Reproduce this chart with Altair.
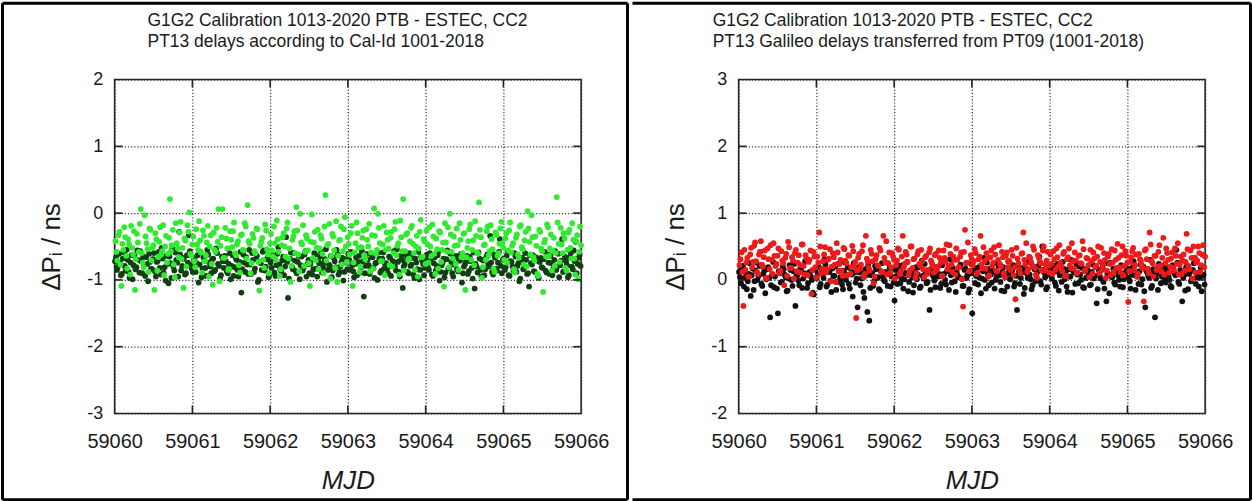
import altair as alt
import pandas as pd

# ---------------- data ----------------
X_TICKS = [59060, 59061, 59062, 59063, 59064, 59065, 59066]
LEFT_Y_TICKS = [-3, -2, -1, 0, 1, 2]
RIGHT_Y_TICKS = [-2, -1, 0, 1, 2, 3]
LEFT_TITLE = ["G1G2 Calibration 1013-2020 PTB - ESTEC, CC2",
              "PT13 delays according to Cal-Id 1001-2018"]
RIGHT_TITLE = ["G1G2 Calibration 1013-2020 PTB - ESTEC, CC2",
               "PT13 Galileo delays transferred from PT09 (1001-2018)"]
Y_TITLE = "\u0394P\u1d62 / ns"
X_TITLE = "MJD"

# left panel, light green series (ns), first and second pass of tracks
light_green = [
    -0.42, -0.71, -0.28, -1.09, -0.55, -0.36, -0.83, -0.47, -0.19, -0.62, -1.15, -0.31, -0.58, 0.06, -0.74, -0.03, -0.45, -0.88, -0.25, -0.52,
    -1.15, -0.39, -0.66, -0.21, -0.57, -0.93, -0.34, -0.61, 0.21, -0.48, -0.77, -0.15, -0.53, -0.29, -0.69, -1.12, -0.41, -0.18, 0.01, -0.64,
    -0.35, -0.81, -0.47, -0.12, -0.59, -0.26, -0.72, -0.44, -0.95, -0.33, -1.07, -0.55, -0.22, 0.06, -0.49, 0.06, -0.67, -0.38, -0.85, -0.27,
    -0.51, -0.14, -0.63, -0.42, -0.89, -0.32, -0.56, -0.20, 0.12, -0.46, -0.75, -0.37, -0.60, -0.24, -1.16, -0.43, -0.70, -0.17, -0.54, -0.90,
    -0.31, -0.65, -0.45, -0.11, -0.58, -0.84, -0.36, -0.50, -0.23, -0.68, -1.03, -0.40, -0.27, 0.09, -0.62, -0.01, -0.47, -0.79, -0.33, -0.56,
    -1.09, -0.02, -0.44, -0.71, -0.25, -0.53, -0.38, -0.90, 0.27, -0.48, -0.16, -0.64, -0.35, -0.82, -1.03, -0.41, -0.20, -0.57, -0.06, -0.73,
    -0.46, -0.30, -1.09, -0.59, -0.14, -0.52, -0.80, -0.37, -0.63, -0.24, -0.50, -0.87, -0.33, 0.07, -0.61, -0.01, -0.45, -0.72, -0.19, -0.55,
    -0.40, -0.78, -0.28, -0.60, -0.13, -0.49, -0.92, -0.36, 0.21, -0.57, -0.30, -0.68, -0.22, -0.46, -0.85, -0.34, -0.53, -0.10, -0.65, -0.42,
    -0.26, -0.74, -0.50, -0.17, -0.61, -0.38, -0.83, -0.29, -0.55, -1.10, -0.44, -0.21, -0.01, -0.58, -0.35, -0.76, -0.48, -0.15, -0.66, -0.31,
    -1.15, -0.52, -0.24, -0.70, -0.41, -0.12, -0.59, 0.16, -0.36, -0.81, -0.47, -0.27, -0.63, -0.18, -0.54, -0.88, -0.33, -0.60, -0.23, -0.45,
    -0.70, -0.30, -0.56, -0.14, -0.49, -0.84, -0.37, -0.62, -0.20, -0.51, -0.77, -0.28, 0.03, -0.43, -0.03, -0.66, -0.35, -0.91, -0.25, -0.53,
    -1.18, -0.40, -0.17, -0.64, -0.32, -0.57, -0.79, 0.24, -0.46, -0.22, -0.60, -0.38, -0.86, -0.29, -0.52, -0.15, -0.68, -0.42, -0.99, -0.20,
]
light_green_b = [
    -0.58, -0.33, -0.77, -0.46, -0.21, -0.64, -0.39, -0.92, -0.52, -0.27, -0.69, -0.44, -0.16, -0.60, -0.81, -0.35, -0.54, -0.23, -0.71, -0.48,
    -0.30, -0.86, -0.43, -0.62, -0.18, -0.50, -0.74, -0.37, -0.57, -0.25, -0.96, -0.45, -0.66, -0.13, -0.52, -0.38, -0.80, -0.28, -0.61, -0.47,
    -0.72, -0.24, -0.55, -0.41, -0.89, -0.34, -0.63, -0.19, -0.50, -0.76, -0.29, -0.58, -0.43, -1.02, -0.36, -0.67, -0.22, -0.53, -0.84, -0.40,
    -0.27, -0.60, -0.47, -0.78, -0.33, -0.55, -0.15, -0.68, -0.42, -0.90, -0.31, -0.57, -0.23, -0.73, -0.49, -0.37, -0.82, -0.26, -0.62, -0.45,
    -0.56, -0.20, -0.70, -0.39, -0.94, -0.48, -0.30, -0.65, -0.14, -0.53, -0.79, -0.35, -0.60, -0.26, -0.87, -0.44, -0.18, -0.58, -0.38, -0.75,
    -0.43, -0.67, -0.28, -0.52, -0.84, -0.33, -0.61, -0.20, -0.71, -0.46, -0.98, -0.31, -0.56, -0.12, -0.64, -0.40, -0.77, -0.24, -0.50, -0.36,
    -0.62, -0.19, -0.74, -0.45, -0.30, -0.88, -0.51, -0.26, -0.69, -0.40, -0.16, -0.59, -0.83, -0.34, -0.55, -0.22, -0.72, -0.47, -0.93, -0.29,
    -0.53, -0.37, -0.80, -0.24, -0.63, -0.45, -0.11, -0.57, -0.86, -0.32, -0.70, -0.42, -0.19, -0.60, -0.50, -0.95, -0.28, -0.66, -0.39, -0.76,
    -0.47, -0.21, -0.64, -0.35, -0.91, -0.54, -0.27, -0.73, -0.44, -0.15, -0.58, -0.81, -0.32, -0.68, -0.49, -0.23, -0.85, -0.40, -0.60, -0.30,
    -0.66, -0.42, -0.17, -0.55, -0.78, -0.34, -0.61, -0.25, -0.97, -0.48, -0.70, -0.20, -0.57, -0.39, -0.83, -0.29, -0.64, -0.46, -0.13, -0.52,
    -0.38, -0.74, -0.26, -0.59, -0.45, -0.89, -0.32, -0.67, -0.18, -0.54, -0.41, -0.80, -0.23, -0.62, -0.36, -0.71, -0.49, -0.94, -0.28, -0.57,
    -0.44, -0.65, -0.21, -0.53, -0.86, -0.37, -0.60, -0.14, -0.73, -0.47, -0.30, -0.82, -0.55, -0.25, -0.68, -0.40, -0.92, -0.33, -0.58, -0.48,
]

# left panel, dark green series (ns)
dark_green = [
    -0.72, -0.85, -0.61, -0.93, -0.68, -0.79, -0.55, -0.88, -0.74, -0.99, -0.64, -0.81, -0.70, -0.57, -0.90, -0.77, -0.66, -1.02, -0.73, -0.84,
    -0.60, -0.95, -0.71, -0.82, -0.52, -0.89, -1.01, -0.76, -0.65, -0.97, -0.80, -0.59, -0.74, -0.28, -0.86, -0.69, -0.92, -0.63, -0.33, -0.78,
    -0.88, -0.67, -0.75, -1.04, -0.58, -0.83, -0.71, -0.94, -0.62, -0.80, -0.69, -0.87, -0.53, -0.76, -0.98, -0.65, -0.82, -0.72, -0.90, -0.60,
    -0.79, -0.94, -0.66, -0.85, -0.73, -1.19, -0.62, -0.88, -0.77, -0.55, -0.91, -0.70, -0.83, -0.64, -1.00, -0.75, -0.58, -0.86, -0.69, -0.96,
    -0.74, -0.63, -0.89, -0.78, -0.51, -0.84, -0.71, -0.93, -0.36, -1.27, -0.68, -0.80, -0.60, -0.87, -0.73, -0.99, -0.65, -0.82, -0.57, -0.76,
    -0.90, -0.70, -0.84, -0.62, -0.95, -0.75, -0.58, -0.81, -0.69, -1.03, -0.77, -0.64, -0.86, -0.72, -0.55, -0.92, -0.80, -0.67, -0.88, -0.74,
    -0.61, -0.85, -0.78, -0.96, -0.66, -0.73, -0.89, -0.57, -1.25, -0.79, -0.70, -0.91, -0.63, -0.82, -0.75, -1.00, -0.68, -0.86, -0.59, -0.77,
    -0.83, -0.65, -0.94, -0.72, -0.80, -0.54, -0.88, -0.70, -1.12, -0.76, -0.62, -0.90, -0.79, -0.67, -0.97, -0.74, -0.58, -0.85, -0.71, -0.93,
    -0.69, -0.81, -0.60, -0.92, -0.75, -0.86, -0.63, -1.01, -0.78, -0.68, -0.89, -0.56, -0.82, -0.73, -0.95, -0.66, -0.84, -0.71, -0.61, -0.90,
    -0.77, -0.64, -0.87, -0.72, -0.98, -1.13, -0.80, -0.59, -0.85, -0.70, -0.93, -0.66, -0.76, -0.34, -0.88, -0.62, -0.83, -0.74, -0.39, -0.90,
    -0.68, -0.81, -0.57, -0.94, -0.73, -0.86, -0.65, -0.79, -1.02, -0.70, -0.84, -0.60, -0.91, -1.10, -0.75, -0.63, -0.88, -0.71, -0.97, -0.67,
    -0.82, -0.58, -0.89, -0.74, -0.64, -0.93, -0.70, -0.85, -0.61, -0.78, -0.39, -0.87, -0.72, -0.96, -0.66, -0.80, -0.56, -0.43, -0.76, -0.62,
]
dark_green_b = [
    -0.66, -0.80, -0.74, -0.91, -0.59, -0.86, -0.70, -0.97, -0.63, -0.78, -0.84, -0.56, -0.89, -0.72, -0.65, -0.94, -0.76, -0.61, -0.83, -0.69,
    -0.87, -0.73, -0.58, -0.92, -0.68, -0.81, -0.64, -1.05, -0.75, -0.53, -0.86, -0.70, -0.95, -0.62, -0.79, -0.67, -0.90, -0.74, -0.57, -0.83,
    -0.71, -0.88, -0.63, -0.77, -0.96, -0.66, -0.82, -0.55, -0.74, -0.90, -0.68, -0.85, -0.60, -0.79, -0.93, -0.72, -0.64, -0.87, -0.76, -0.99,
    -0.63, -0.81, -0.70, -0.95, -0.58, -0.84, -0.74, -0.66, -0.91, -0.77, -0.60, -0.88, -0.69, -1.03, -0.73, -0.85, -0.56, -0.80, -0.67, -0.92,
    -0.82, -0.69, -0.94, -0.61, -0.77, -0.87, -0.65, -0.80, -0.73, -0.98, -0.59, -0.84, -0.71, -0.90, -0.64, -0.78, -0.86, -0.62, -0.95, -0.70,
    -0.76, -0.92, -0.60, -0.83, -0.71, -0.65, -0.89, -0.74, -0.54, -0.85, -0.79, -0.96, -0.67, -0.81, -0.62, -0.88, -0.73, -1.01, -0.69, -0.84,
    -0.70, -0.58, -0.87, -0.76, -0.93, -0.64, -0.81, -0.72, -0.90, -0.61, -0.78, -0.85, -0.66, -0.97, -0.74, -0.59, -0.89, -0.68, -0.83, -0.75,
    -0.90, -0.67, -0.79, -0.57, -0.86, -0.73, -0.95, -0.63, -0.80, -0.70, -0.88, -0.60, -0.77, -0.92, -0.68, -0.84, -0.99, -0.65, -0.76, -0.82,
    -0.62, -0.85, -0.72, -0.94, -0.66, -0.79, -0.57, -0.88, -0.74, -0.96, -0.69, -0.83, -0.61, -0.90, -0.77, -0.64, -0.87, -0.71, -1.04, -0.80,
    -0.73, -0.91, -0.65, -0.82, -0.59, -0.76, -0.89, -0.68, -0.95, -0.71, -0.84, -0.62, -0.80, -0.74, -0.92, -0.67, -0.86, -0.58, -0.79, -0.70,
    -0.85, -0.64, -0.93, -0.72, -0.80, -0.60, -0.88, -0.75, -0.98, -0.67, -0.82, -0.70, -0.90, -0.63, -0.77, -0.87, -0.66, -0.94, -0.73, -0.81,
    -0.69, -0.86, -0.62, -0.91, -0.75, -0.83, -0.57, -0.80, -0.96, -0.71, -0.88, -0.65, -0.78, -0.93, -0.60, -0.84, -0.72, -0.90, -0.67, -0.79,
]

# right panel, red series (ns)
red = [
    0.22, 0.41, -0.39, 0.15, 0.33, 0.05, 0.48, 0.27, 0.56, 0.12, 0.38, 0.58, 0.20, 0.44, 0.03, 0.31, 0.52, 0.09, 0.36, 0.24,
    0.47, 0.14, 0.29, -0.08, 0.39, 0.57, 0.18, 0.34, 0.02, 0.45, 0.26, 0.11, 0.53, 0.21, 0.37, 0.07, 0.30, -0.21, 0.42, 0.19,
    0.35, 0.71, 0.10, 0.28, 0.49, 0.16, 0.32, -0.02, 0.40, 0.23, 0.55, 0.13, 0.30, 0.06, 0.46, 0.25, 0.37, 0.09, 0.51, 0.20,
    -0.57, 0.33, 0.17, 0.43, 0.04, 0.66, 0.27, 0.14, 0.39, -0.05, 0.31, 0.22, 0.48, 0.12, 0.66, 0.26, 0.08, 0.41, 0.19, 0.35,
    0.02, 0.29, 0.45, 0.13, 0.66, 0.24, 0.38, 0.07, 0.50, 0.18, 0.32, 0.10, 0.43, 0.21, 0.28, 0.04, 0.36, 0.15, 0.47, 0.25,
    0.11, 0.39, 0.20, 0.33, 0.06, 0.44, 0.27, 0.16, 0.52, 0.23, 0.35, 0.08, 0.30, 0.19, 0.41, -0.40, 0.75, 0.26, 0.13, 0.37,
    0.22, 0.46, 0.09, 0.31, 0.66, 0.17, 0.28, 0.40, 0.05, 0.34, 0.21, 0.49, 0.14, 0.30, 0.24, 0.42, 0.10, 0.36, 0.19, 0.27,
    0.45, 0.07, -0.29, 0.32, 0.16, 0.39, 0.71, 0.23, 0.12, 0.35, 0.27, 0.50, 0.18, 0.03, 0.33, 0.25, 0.44, 0.14, 0.29, 0.21,
    0.38, 0.09, 0.31, 0.47, 0.20, 0.26, 0.13, 0.42, 0.06, 0.34, 0.22, 0.55, 0.17, 0.29, 0.11, 0.37, 0.24, 0.46, 0.15, 0.32,
    0.04, 0.28, 0.41, 0.19, 0.35, 0.10, 0.48, 0.23, 0.30, 0.14, 0.39, 0.07, 0.26, 0.44, 0.18, 0.33, 0.12, 0.50, 0.21, 0.36,
    -0.33, 0.27, 0.43, 0.15, 0.38, 0.09, 0.31, 0.22, -0.32, 0.46, 0.17, 0.71, 0.28, 0.05, 0.36, 0.20, 0.52, 0.13, 0.63, 0.25,
    0.40, 0.11, 0.32, 0.18, 0.47, 0.24, 0.08, 0.35, 0.29, 0.14, 0.69, 0.21, 0.44, 0.02, 0.33, 0.26, 0.50, 0.12, 0.38, 0.19,
]
red_b = [
    0.31, 0.12, 0.45, 0.26, 0.05, 0.38, 0.19, 0.51, 0.28, 0.09, 0.42, 0.23, 0.34, 0.02, 0.47, 0.16, 0.30, 0.55, 0.21, 0.36,
    0.10, 0.43, 0.25, 0.33, 0.06, 0.49, 0.18, 0.29, 0.40, 0.13, 0.37, 0.22, 0.53, 0.08, 0.32, 0.27, 0.44, 0.15, 0.35, 0.04,
    0.26, 0.50, 0.17, 0.38, 0.11, 0.30, 0.46, 0.20, 0.34, -0.03, 0.41, 0.24, 0.14, 0.48, 0.29, 0.07, 0.36, 0.19, 0.43, 0.27,
    0.14, 0.39, 0.23, 0.52, 0.09, 0.32, 0.18, 0.45, 0.28, 0.05, 0.37, 0.21, 0.44, 0.12, 0.33, 0.58, 0.25, 0.10, 0.40, 0.30,
    0.22, 0.47, 0.08, 0.35, 0.19, 0.42, 0.27, 0.13, 0.50, 0.31, 0.03, 0.38, 0.24, 0.45, 0.16, 0.34, 0.09, 0.41, 0.29, 0.20,
    0.37, 0.15, 0.44, 0.26, 0.06, 0.33, 0.53, 0.21, 0.39, 0.12, 0.30, 0.47, 0.18, 0.35, 0.01, 0.42, 0.25, 0.56, 0.14, 0.31,
    0.28, 0.40, 0.11, 0.35, 0.23, 0.49, 0.17, 0.32, 0.07, 0.44, 0.26, 0.38, 0.13, 0.52, 0.20, 0.34, 0.04, 0.41, 0.29, 0.15,
    0.36, 0.19, 0.48, 0.25, 0.10, 0.40, 0.30, 0.55, 0.16, 0.33, 0.22, 0.45, 0.08, 0.37, 0.27, 0.14, 0.50, 0.23, 0.42, 0.11,
    0.24, 0.43, 0.15, 0.34, 0.52, 0.20, 0.39, 0.06, 0.31, 0.47, 0.18, 0.28, 0.41, 0.10, 0.36, 0.25, 0.58, 0.13, 0.33, 0.22,
    0.45, 0.09, 0.32, 0.21, 0.50, 0.27, 0.16, 0.40, 0.03, 0.35, 0.24, 0.46, 0.12, 0.30, 0.54, 0.19, 0.37, 0.07, 0.43, 0.26,
    0.13, 0.34, 0.48, 0.22, 0.05, 0.39, 0.28, 0.17, 0.44, 0.31, 0.10, 0.53, 0.25, 0.36, 0.15, 0.42, 0.21, 0.33, 0.08, 0.47,
    0.30, 0.20, 0.41, 0.14, 0.36, 0.55, 0.23, 0.09, 0.38, 0.27, 0.46, 0.16, 0.33, 0.50, 0.11, 0.29, 0.40, 0.22, 0.52, 0.35,
]

# right panel, black series (ns)
black = [
    0.12, -0.05, 0.21, 0.03, -0.14, 0.09, -0.24, 0.17, -0.02, 0.26, 0.06, 0.42, -0.09, 0.14, 0.01, 0.19, -0.56, 0.08, -0.11, 0.23,
    -0.50, 0.10, -0.03, 0.16, 0.04, -0.16, 0.22, 0.00, 0.13, -0.39, 0.07, -0.08, 0.18, 0.02, 0.28, -0.12, 0.11, 0.05, -0.19, 0.15,
    0.03, 0.20, -0.06, 0.09, 0.31, -0.10, 0.12, -0.01, 0.17, 0.06, -0.15, 0.24, 0.04, -0.07, 0.14, 0.00, 0.19, -0.13, 0.08, 0.25,
    -0.04, -0.41, 0.11, 0.02, -0.18, 0.16, -0.48, -0.61, 0.07, -0.09, 0.21, 0.03, -0.14, 0.13, 0.05, -0.02, 0.26, 0.09, -0.10, 0.18,
    -0.31, 0.06, 0.15, -0.05, 0.22, 0.01, 0.10, -0.17, 0.14, 0.04, -0.08, 0.19, 0.08, -0.12, 0.29, 0.02, 0.12, -0.03, -0.45, 0.17,
    0.05, -0.11, 0.20, 0.09, -0.06, 0.27, 0.00, 0.13, -0.15, 0.07, 0.18, -0.02, 0.11, 0.04, 0.23, -0.09, 0.15, 0.03, -0.19, 0.10,
    -0.50, 0.14, 0.06, -0.07, 0.21, 0.02, 0.33, -0.13, 0.09, 0.17, -0.04, 0.12, 0.00, 0.25, 0.07, -0.16, 0.19, 0.04, -0.10, 0.15,
    0.08, 0.22, -0.05, -0.45, 0.13, 0.03, 0.18, -0.12, 0.10, 0.27, 0.01, -0.08, 0.16, 0.06, 0.21, -0.02, 0.50, 0.11, -0.14, 0.09,
    0.19, 0.02, 0.14, -0.09, 0.24, 0.07, -0.03, 0.17, 0.11, -0.18, 0.05, 0.30, 0.13, -0.06, 0.08, 0.20, 0.00, -0.11, 0.16, 0.04,
    0.10, -0.07, 0.23, 0.06, -0.35, 0.15, 0.02, 0.19, -0.13, -0.32, 0.09, 0.26, 0.04, -0.04, 0.14, 0.07, -0.10, 0.21, 0.01, 0.12,
    0.17, -0.02, 0.08, 0.28, -0.15, 0.05, 0.13, -0.07, 0.20, -0.41, 0.11, 0.03, -0.12, 0.16, -0.56, 0.09, 0.24, -0.05, 0.14, 0.00,
    0.18, 0.06, -0.09, 0.22, 0.10, 0.45, -0.03, 0.15, -0.32, 0.07, 0.19, -0.14, 0.12, 0.02, 0.25, -0.06, 0.11, 0.04, -0.17, 0.08,
]
black_b = [
    0.04, 0.18, -0.10, 0.11, -0.02, 0.25, 0.07, -0.15, 0.14, 0.00, 0.21, -0.06, 0.09, -0.20, 0.16, 0.03, -0.08, 0.27, 0.05, -0.13,
    0.13, -0.04, 0.20, 0.08, -0.17, 0.02, 0.15, -0.09, 0.24, 0.06, -0.01, 0.18, -0.12, 0.10, 0.29, -0.05, 0.12, 0.00, -0.22, 0.17,
    0.09, -0.11, 0.16, 0.03, 0.23, -0.07, 0.12, -0.18, 0.06, 0.20, -0.03, 0.14, 0.01, -0.14, 0.26, 0.08, -0.06, 0.17, -0.25, 0.11,
    0.02, 0.19, -0.08, 0.13, -0.27, 0.07, 0.22, -0.12, 0.10, -0.02, 0.16, 0.04, -0.16, 0.25, 0.00, 0.12, -0.09, 0.18, 0.05, -0.04,
    0.15, -0.06, 0.21, 0.03, -0.13, 0.10, 0.27, -0.03, 0.07, -0.19, 0.13, 0.01, 0.19, -0.10, 0.06, 0.24, -0.05, 0.11, -0.15, 0.08,
    -0.01, 0.16, 0.05, -0.12, 0.22, 0.09, -0.07, 0.14, 0.31, -0.04, 0.11, -0.18, 0.06, 0.20, 0.02, -0.09, 0.17, 0.07, -0.14, 0.24,
    0.10, -0.05, 0.18, 0.04, -0.20, 0.13, 0.00, 0.26, -0.08, 0.08, 0.15, -0.13, 0.05, 0.21, -0.03, 0.12, -0.17, 0.09, 0.28, 0.01,
    0.14, -0.10, 0.06, 0.23, -0.06, 0.11, -0.21, 0.17, 0.03, 0.08, -0.14, 0.20, -0.02, 0.12, 0.35, -0.07, 0.15, 0.04, -0.11, 0.19,
    0.06, 0.22, -0.04, 0.13, -0.16, 0.09, 0.27, 0.01, -0.10, 0.16, 0.05, -0.19, 0.11, 0.24, -0.05, 0.08, 0.18, -0.12, 0.03, 0.14,
    -0.08, 0.12, 0.02, 0.20, -0.14, 0.07, 0.15, -0.03, 0.25, 0.10, -0.20, 0.05, 0.17, -0.07, 0.13, 0.00, 0.22, -0.11, 0.08, 0.16,
    0.03, -0.13, 0.19, 0.07, 0.11, -0.06, 0.23, 0.01, -0.17, 0.14, 0.06, 0.30, -0.09, 0.10, 0.02, -0.15, 0.18, 0.05, 0.21, -0.04,
    0.12, 0.00, -0.11, 0.17, 0.07, 0.26, -0.06, 0.13, 0.03, -0.16, 0.20, 0.09, -0.02, 0.15, 0.33, 0.04, -0.10, 0.18, 0.06, -0.07,
]

# ---------------- layout / style ----------------
W, H = 468, 335
FONT = "Liberation Sans"
TEXT = "#1a1a1a"
MJD0, MJD1 = X_TICKS[0], X_TICKS[-1]


def series_df(values, shift):
    """Samples are evenly spaced through the six days shown."""
    step = (MJD1 - MJD0) / len(values)
    return pd.DataFrame({
        "mjd": [MJD0 + (k + shift) * step for k in range(len(values))],
        "dp": values,
    })


def panel(y_ticks, title_lines, title_x, series, frame):
    x_enc = alt.X(
        "mjd:Q",
        scale=alt.Scale(domain=[MJD0, MJD1], nice=False, zero=False),
        axis=alt.Axis(values=X_TICKS, labelExpr="'' + datum.value",
                      labelFontSize=20, labelPadding=18,
                      labelFlush=False, labelOverlap=False,
                      title=X_TITLE, titleFontSize=26, titleFontStyle="italic",
                      titleY=75, titleBaseline="alphabetic"),
    )
    y_enc = alt.Y(
        "dp:Q",
        scale=alt.Scale(domain=[y_ticks[0], y_ticks[-1]], nice=False, zero=False),
        axis=alt.Axis(values=y_ticks, labelExpr="'' + datum.value",
                      labelFontSize=18, labelPadding=12,
                      labelFlush=False, labelOverlap=False,
                      title=Y_TITLE, titleFontSize=26, titleAngle=270,
                      titleX=-63, titleY=H / 2, titleAlign="center",
                      titleBaseline="middle"),
    )
    layers = []
    for vals, shift, color in series:
        layers.append(
            alt.Chart(series_df(vals, shift))
            .mark_circle(size=34, color=color, opacity=1)
            .encode(x=x_enc, y=y_enc)
        )
    # inward tick marks on all four sides
    xt = pd.DataFrame({"mjd": X_TICKS[1:-1]})
    yt = pd.DataFrame({"dp": y_ticks[1:-1]})
    ts = dict(color="#222222", strokeWidth=1.6)
    layers += [
        alt.Chart(xt).mark_rule(**ts).encode(x=x_enc, y=alt.value(0), y2=alt.value(8)),
        alt.Chart(xt).mark_rule(**ts).encode(x=x_enc, y=alt.value(H - 8), y2=alt.value(H)),
        alt.Chart(yt).mark_rule(**ts).encode(y=y_enc, x=alt.value(0), x2=alt.value(8)),
        alt.Chart(yt).mark_rule(**ts).encode(y=y_enc, x=alt.value(W - 8), x2=alt.value(W)),
    ]
    # two-line header
    for i, line in enumerate(title_lines):
        layers.append(
            alt.Chart(pd.DataFrame({"line": [line]}))
            .mark_text(align="left", baseline="alphabetic", font=FONT,
                       fontSize=17.5, color=TEXT)
            .encode(x=alt.value(title_x), y=alt.value(-54 + 21 * i), text="line:N")
        )
    # outer page frame
    one = pd.DataFrame({"k": [0]})
    for (fx1, fx2, fy1, fy2) in frame:
        layers.append(
            alt.Chart(one).mark_rule(color="black", strokeWidth=3)
            .encode(x=alt.value(fx1), x2=alt.value(fx2), y=alt.value(fy1), y2=alt.value(fy2))
        )
    return alt.layer(*layers).properties(width=W, height=H)


# frame line centres in panel coordinates (plot origin at 114,78 and 738,78)
left_frame = [
    (-112.5, -112.5, -76.5, 421.5),
    (514.5, 514.5, -76.5, 421.5),
    (-112.5, 514.5, -76.5, -76.5),
    (-112.5, 514.5, 421.5, 421.5),
]
right_frame = [
    (-106.5, 513.5, -76.5, -76.5),
    (-106.5, 513.5, 421.5, 421.5),
    (513.5, 513.5, -76.5, 421.5),
]

DG, LG, RD, BK = "#103f12", "#30ea30", "#ee1a1a", "#111111"
left = panel(LEFT_Y_TICKS, LEFT_TITLE, 33,
             [(dark_green, 0.2, DG), (dark_green_b, 0.7, DG),
              (light_green, 0.45, LG), (light_green_b, 0.95, LG)],
             left_frame)
right = panel(RIGHT_Y_TICKS, RIGHT_TITLE, -26,
              [(black, 0.2, BK), (black_b, 0.7, BK),
               (red, 0.45, RD), (red_b, 0.95, RD)],
              right_frame)

chart = (
    alt.hconcat(left, right, spacing=0)
    .properties(padding=0, background="white")
    .configure_view(stroke="#222222", strokeWidth=1.6)
    .configure_axis(grid=True, gridDash=[1.2, 2], gridColor="#333333",
                    gridWidth=1.2, gridOpacity=1, domain=False, ticks=False,
                    labelFont=FONT, titleFont=FONT, labelColor=TEXT,
                    titleColor=TEXT, titleFontWeight="normal")
)

chart.save("out.html", embed_options={"renderer": "svg", "actions": False})
